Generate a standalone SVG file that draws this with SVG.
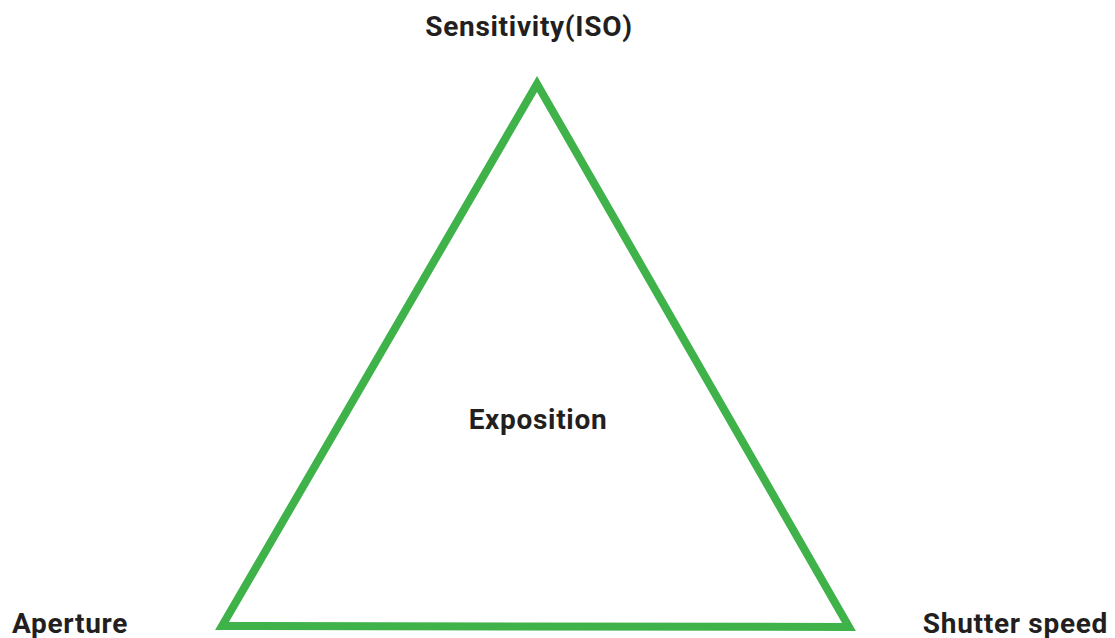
<svg xmlns="http://www.w3.org/2000/svg" width="1115" height="638" viewBox="0 0 1115 638">
<style>
.lbl{font-family:Roboto,"Liberation Sans",sans-serif;font-weight:bold;font-size:28px;letter-spacing:0.7px;fill:#231f20}
.tri{fill:none;stroke:#3fb24a;stroke-width:8;stroke-linejoin:miter}
</style>
<rect width="1115" height="638" fill="#ffffff"/>
<g id="connectors">
<path class="tri" d="M537,84 L222,626 L849,627 Z"/>
</g>
<g id="node-iso"><text class="lbl" x="529" y="36" text-anchor="middle">Sensitivity(ISO)</text></g>
<g id="node-exposition"><text class="lbl" x="538" y="429" text-anchor="middle">Exposition</text></g>
<g id="node-aperture"><text class="lbl" x="12" y="633">Aperture</text></g>
<g id="node-shutter"><text class="lbl" x="1108" y="633" text-anchor="end">Shutter speed</text></g>
</svg>
